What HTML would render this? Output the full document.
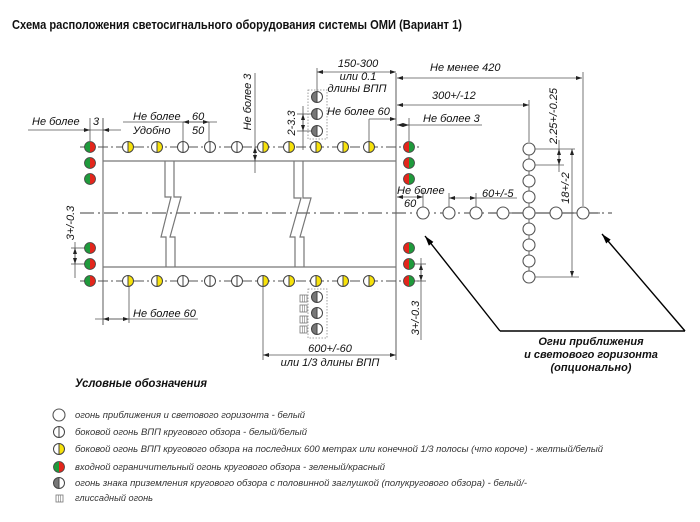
<!DOCTYPE html>
<html><head><meta charset="utf-8"><style>
html,body{margin:0;padding:0;background:#fff;}
body{width:700px;height:522px;overflow:hidden;position:relative;}
svg{position:absolute;left:0;top:0;}
text{font-family:"Liberation Sans","Noto Sans CJK SC",sans-serif;fill:#111;}
.d{font-style:italic;font-size:11px;}
.lg{font-style:italic;font-size:9px;fill:#333;}
</style></head><body>
<svg width="700" height="522" viewBox="0 0 700 522" xmlns="http://www.w3.org/2000/svg">
<defs>
<marker id="a" viewBox="0 0 6 4" refX="6" refY="2" markerWidth="6" markerHeight="4" orient="auto-start-reverse" markerUnits="userSpaceOnUse"><path d="M0,0 L6,2 L0,4z" fill="#222"/></marker>
<marker id="b" viewBox="0 0 10 6" refX="10" refY="3" markerWidth="10" markerHeight="6" orient="auto-start-reverse" markerUnits="userSpaceOnUse"><path d="M0,0 L10,3 L0,6z" fill="#000"/></marker>
<g id="w"><circle r="5.5" fill="#fff" stroke="#444" stroke-width="1"/><line x1="0" y1="-5.5" x2="0" y2="5.5" stroke="#444" stroke-width="1"/></g>
<g id="y"><circle r="5.5" fill="#fff"/><path d="M0,-5.5 A5.5,5.5 0 0 1 0,5.5 Z" fill="#f7e20a"/><circle r="5.5" fill="none" stroke="#444" stroke-width="1"/><line x1="0" y1="-5.5" x2="0" y2="5.5" stroke="#444" stroke-width="1"/></g>
<g id="gl"><path d="M0,-5.5 A5.5,5.5 0 0 0 0,5.5 Z" fill="#1f9a3c"/><path d="M0,-5.5 A5.5,5.5 0 0 1 0,5.5 Z" fill="#e3261c"/><circle r="5.5" fill="none" stroke="#444" stroke-width="0.8"/></g>
<g id="rl"><path d="M0,-5.5 A5.5,5.5 0 0 0 0,5.5 Z" fill="#e3261c"/><path d="M0,-5.5 A5.5,5.5 0 0 1 0,5.5 Z" fill="#1f9a3c"/><circle r="5.5" fill="none" stroke="#444" stroke-width="0.8"/></g>
<g id="m"><circle r="5.5" fill="#fff"/><path d="M0,-5.5 A5.5,5.5 0 0 0 0,5.5 Z" fill="#777"/><circle r="5.5" fill="none" stroke="#444" stroke-width="1"/><line x1="0" y1="-5.5" x2="0" y2="5.5" stroke="#444" stroke-width="1"/></g>
<g id="ap"><circle r="6" fill="#fff" stroke="#555" stroke-width="1.1"/></g>
<g id="gs"><rect x="0" y="0" width="7" height="7" fill="#fff" stroke="#777" stroke-width="0.8"/><line x1="2.3" y1="0" x2="2.3" y2="7" stroke="#777" stroke-width="0.6"/><line x1="4.6" y1="0" x2="4.6" y2="7" stroke="#777" stroke-width="0.6"/></g>
</defs>

<!-- Title -->
<text x="12" y="29" font-size="13" font-weight="bold" textLength="450" lengthAdjust="spacingAndGlyphs">Схема расположения светосигнального оборудования системы ОМИ (Вариант 1)</text>

<!-- runway structure -->
<g stroke="#777" stroke-width="1.2" fill="none">
<line x1="103" y1="118" x2="103" y2="325"/>
<line x1="396" y1="73" x2="396" y2="360"/>
<line x1="103" y1="161" x2="396" y2="161"/>
<line x1="103" y1="267" x2="396" y2="267"/>
<polyline points="165,161 165,197 171,197 161,237 166,237 166,267"/>
<polyline points="174,161 174,197 181,197 170,237 175,237 175,267"/>
<polyline points="294,161 294,198 301,198 290,237 295,237 295,267"/>
<polyline points="303,161 303,198 311,198 300,237 304,237 304,267"/>
</g>
<!-- centerline -->
<line x1="80" y1="213" x2="612" y2="213" stroke="#666" stroke-width="1.2" stroke-dasharray="14 4 2 4"/>
<!-- light rows -->
<line x1="80" y1="147" x2="422" y2="147" stroke="#555" stroke-width="1" stroke-dasharray="10 3 2 3"/>
<line x1="80" y1="281" x2="422" y2="281" stroke="#555" stroke-width="1" stroke-dasharray="10 3 2 3"/>

<!-- dimension lines -->
<g stroke="#555" stroke-width="0.8" fill="none">
<!-- top left Не более 3 -->
<line x1="28" y1="130" x2="121" y2="130"/>
<line x1="90" y1="118" x2="90" y2="141"/>
<line x1="83" y1="130" x2="90" y2="130" marker-end="url(#a)"/>
<line x1="110" y1="130" x2="103" y2="130" marker-end="url(#a)"/>
<!-- Не более 60 / 50 -->
<line x1="123" y1="122" x2="217" y2="122"/>
<line x1="183" y1="122" x2="183" y2="141"/>
<line x1="209" y1="122" x2="209" y2="141"/>
<line x1="183" y1="122" x2="209" y2="122" marker-start="url(#a)" marker-end="url(#a)"/>
<!-- Не более 3 vertical -->
<line x1="255" y1="73" x2="255" y2="173"/>
<line x1="255" y1="147" x2="255" y2="161" marker-start="url(#a)" marker-end="url(#a)"/>
<!-- 2-3.3 -->
<line x1="297" y1="114" x2="312" y2="114"/>
<line x1="297" y1="131" x2="312" y2="131"/>
<line x1="303" y1="106" x2="303" y2="150"/>
<line x1="303" y1="114" x2="303" y2="131" marker-start="url(#a)" marker-end="url(#a)"/>
<!-- 150-300 -->
<line x1="317" y1="68" x2="317" y2="91"/>
<line x1="317" y1="72" x2="396" y2="72" marker-start="url(#a)" marker-end="url(#a)"/>
<!-- Не более 60 mid -->
<line x1="369" y1="119" x2="369" y2="141"/>
<line x1="369" y1="119" x2="396" y2="119" marker-end="url(#a)"/>
<!-- Не менее 420 -->
<line x1="397" y1="78" x2="582" y2="78" marker-start="url(#a)" marker-end="url(#a)"/>
<line x1="583" y1="72" x2="583" y2="206"/>
<!-- 300+/-12 -->
<line x1="397" y1="105" x2="529" y2="105" marker-start="url(#a)" marker-end="url(#a)"/>
<line x1="529" y1="100" x2="529" y2="142"/>
<!-- Не более 3 right -->
<line x1="397" y1="125" x2="482" y2="125"/>
<line x1="409" y1="118" x2="409" y2="141"/>
<line x1="397" y1="125" x2="409" y2="125" marker-start="url(#a)" marker-end="url(#a)"/>
<!-- 2.25 -->
<line x1="535" y1="149" x2="575" y2="149"/>
<line x1="535" y1="165" x2="564" y2="165"/>
<line x1="559" y1="140" x2="559" y2="172"/>
<line x1="559" y1="149" x2="559" y2="165" marker-start="url(#a)" marker-end="url(#a)"/>
<!-- 18+/-2 -->
<line x1="535" y1="277" x2="579" y2="277"/>
<line x1="572" y1="149" x2="572" y2="277" marker-start="url(#a)" marker-end="url(#a)"/>
<!-- Не более 60 approach -->
<line x1="397" y1="197" x2="423" y2="197" marker-start="url(#a)" marker-end="url(#a)"/>
<line x1="423" y1="190" x2="423" y2="207"/>
<!-- 60+/-5 -->
<line x1="476" y1="198" x2="517" y2="198"/>
<line x1="449" y1="198" x2="476" y2="198" marker-start="url(#a)" marker-end="url(#a)"/>
<line x1="449" y1="193" x2="449" y2="207"/>
<line x1="476" y1="193" x2="476" y2="207"/>
<!-- left 3+/-0.3 -->
<line x1="71" y1="248" x2="85" y2="248"/>
<line x1="71" y1="264" x2="85" y2="264"/>
<line x1="75" y1="242" x2="75" y2="278"/>
<line x1="75" y1="248" x2="75" y2="264" marker-start="url(#a)" marker-end="url(#a)"/>
<!-- right 3+/-0.3 -->
<line x1="414" y1="264" x2="426" y2="264"/>
<line x1="414" y1="281" x2="426" y2="281"/>
<line x1="421" y1="258" x2="421" y2="340"/>
<line x1="421" y1="264" x2="421" y2="281" marker-start="url(#a)" marker-end="url(#a)"/>
<!-- bottom Не более 60 -->
<line x1="95" y1="319" x2="198" y2="319"/>
<line x1="129" y1="286" x2="129" y2="323"/>
<line x1="103" y1="319" x2="129" y2="319" marker-start="url(#a)" marker-end="url(#a)"/>
<!-- 600+/-60 -->
<line x1="263" y1="286" x2="263" y2="360"/>
<line x1="263" y1="355" x2="396" y2="355" marker-start="url(#a)" marker-end="url(#a)"/>
</g>

<!-- dotted boxes -->
<rect x="308" y="90" width="19" height="49" fill="none" stroke="#888" stroke-width="0.8" stroke-dasharray="1.5 1.5"/>
<rect x="308" y="289" width="19" height="49" fill="none" stroke="#888" stroke-width="0.8" stroke-dasharray="1.5 1.5"/>

<!-- approach light lines -->
<line x1="529" y1="149" x2="529" y2="277" stroke="#666" stroke-width="1"/>
<line x1="490" y1="213" x2="600" y2="213" stroke="#555" stroke-width="1.1"/>

<!-- top row lights -->
<use href="#y" x="128" y="147"/><use href="#y" x="157" y="147"/><use href="#w" x="183" y="147"/><use href="#w" x="210" y="147"/><use href="#w" x="237" y="147"/>
<use href="#y" x="263" y="147"/><use href="#y" x="289" y="147"/><use href="#y" x="316" y="147"/><use href="#y" x="343" y="147"/><use href="#y" x="369" y="147"/>
<!-- bottom row -->
<use href="#y" x="128" y="281"/><use href="#y" x="157" y="281"/><use href="#w" x="183" y="281"/><use href="#w" x="210" y="281"/><use href="#w" x="237" y="281"/>
<use href="#y" x="263" y="281"/><use href="#y" x="289" y="281"/><use href="#y" x="316" y="281"/><use href="#y" x="343" y="281"/><use href="#y" x="369" y="281"/>
<!-- threshold lights -->
<use href="#gl" x="90" y="147"/><use href="#gl" x="90" y="163"/><use href="#gl" x="90" y="179"/>
<use href="#gl" x="90" y="248"/><use href="#gl" x="90" y="264"/><use href="#gl" x="90" y="281"/>
<use href="#rl" x="409" y="147"/><use href="#rl" x="409" y="163"/><use href="#rl" x="409" y="179"/>
<use href="#rl" x="409" y="248"/><use href="#rl" x="409" y="264"/><use href="#rl" x="409" y="281"/>
<!-- markers -->
<use href="#m" x="317" y="97"/><use href="#m" x="317" y="114"/><use href="#m" x="317" y="131"/>
<use href="#m" x="317" y="297"/><use href="#m" x="317" y="313"/><use href="#m" x="317" y="329"/>
<!-- glide slope -->
<use href="#gs" x="300" y="295"/><use href="#gs" x="300" y="305"/><use href="#gs" x="300" y="316"/><use href="#gs" x="300" y="326"/>
<!-- approach lights -->
<use href="#ap" x="423" y="213"/><use href="#ap" x="449" y="213"/><use href="#ap" x="476" y="213"/><use href="#ap" x="503" y="213"/><use href="#ap" x="529" y="213"/><use href="#ap" x="556" y="213"/><use href="#ap" x="583" y="213"/>
<use href="#ap" x="529" y="149"/><use href="#ap" x="529" y="165"/><use href="#ap" x="529" y="181"/><use href="#ap" x="529" y="197"/>
<use href="#ap" x="529" y="229"/><use href="#ap" x="529" y="245"/><use href="#ap" x="529" y="261"/><use href="#ap" x="529" y="277"/>

<!-- pointer lines -->
<g stroke="#000" stroke-width="1.4" fill="none">
<line x1="500" y1="331" x2="425" y2="236" marker-end="url(#b)"/>
<line x1="500" y1="331" x2="685" y2="331"/>
<line x1="685" y1="331" x2="602" y2="234" marker-end="url(#b)"/>
</g>

<!-- dimension texts -->
<text class="d" x="32" y="125">Не более</text>
<text class="d" x="93" y="125">3</text>
<text class="d" x="133" y="120">Не более</text>
<text class="d" x="192" y="120">60</text>
<text class="d" x="133" y="134">Удобно</text>
<text class="d" x="192" y="134">50</text>
<text class="d" transform="translate(251,102) rotate(-90)" text-anchor="middle">Не более 3</text>
<text class="d" transform="translate(295,123) rotate(-90)" text-anchor="middle">2-3.3</text>
<text class="d" x="358" y="67" text-anchor="middle">150-300</text>
<text class="d" x="358" y="80" text-anchor="middle">или 0.1</text>
<text class="d" x="357" y="92" text-anchor="middle">длины ВПП</text>
<text class="d" x="327" y="115">Не более 60</text>
<text class="d" x="430" y="71">Не менее 420</text>
<text class="d" x="432" y="99">300+/-12</text>
<text class="d" x="423" y="122">Не более 3</text>
<text class="d" transform="translate(557,116) rotate(-90)" text-anchor="middle">2.25+/-0.25</text>
<text class="d" transform="translate(569,188) rotate(-90)" text-anchor="middle">18+/-2</text>
<text class="d" x="397" y="194">Не более</text>
<text class="d" x="404" y="207">60</text>
<text class="d" x="482" y="197">60+/-5</text>
<text class="d" transform="translate(74,223) rotate(-90)" text-anchor="middle">3+/-0.3</text>
<text class="d" transform="translate(419,318) rotate(-90)" text-anchor="middle">3+/-0.3</text>
<text class="d" x="133" y="317">Не более 60</text>
<text class="d" x="330" y="352" text-anchor="middle">600+/-60</text>
<text class="d" x="330" y="366" text-anchor="middle">или 1/3 длины ВПП</text>

<text x="591" y="345" text-anchor="middle" font-size="11" font-weight="bold" font-style="italic">Огни приближения</text>
<text x="591" y="358" text-anchor="middle" font-size="11" font-weight="bold" font-style="italic">и светового горизонта</text>
<text x="591" y="371" text-anchor="middle" font-size="11" font-weight="bold" font-style="italic">(опционально)</text>

<!-- legend -->
<text x="75" y="387" font-size="12" font-weight="bold" font-style="italic" textLength="132" lengthAdjust="spacingAndGlyphs">Условные обозначения</text>
<use href="#ap" x="59" y="415"/>
<use href="#w" x="59" y="432"/>
<use href="#y" x="59" y="449"/>
<use href="#gl" x="59" y="467"/>
<use href="#m" x="59" y="483"/>
<use href="#gs" x="56" y="495"/>
<text class="lg" x="75" y="418" textLength="230" lengthAdjust="spacingAndGlyphs">огонь приближения и светового горизонта - белый</text>
<text class="lg" x="75" y="435" textLength="232" lengthAdjust="spacingAndGlyphs">боковой огонь ВПП кругового обзора - белый/белый</text>
<text class="lg" x="75" y="452" textLength="528" lengthAdjust="spacingAndGlyphs">боковой огонь ВПП кругового обзора на последних 600 метрах или конечной 1/3 полосы (что короче) - желтый/белый</text>
<text class="lg" x="75" y="470" textLength="310" lengthAdjust="spacingAndGlyphs">входной ограничительный огонь кругового обзора - зеленый/красный</text>
<text class="lg" x="75" y="486" textLength="452" lengthAdjust="spacingAndGlyphs">огонь знака приземления кругового обзора с половинной заглушкой (полукругового обзора)  - белый/-</text>
<text class="lg" x="75" y="501" textLength="78" lengthAdjust="spacingAndGlyphs">глиссадный огонь</text>
</svg>
</body></html>
